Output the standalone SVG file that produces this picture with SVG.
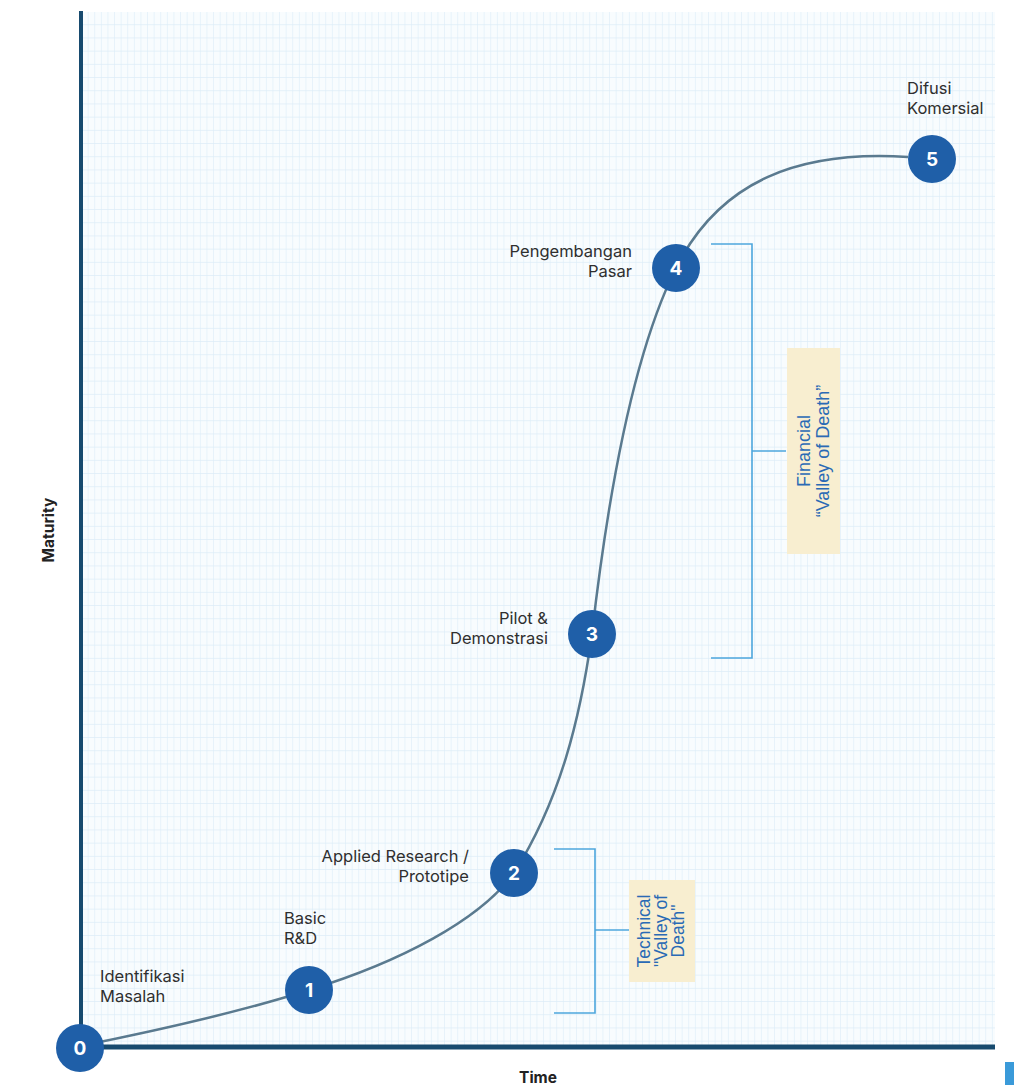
<svg xmlns="http://www.w3.org/2000/svg" width="1014" height="1085" viewBox="0 0 1014 1085">
<defs>
<pattern id="grid" x="82" y="12" width="6.6" height="13.2" patternUnits="userSpaceOnUse">
<rect width="6.6" height="13.2" fill="#f8fcfe"/>
<path d="M6.6,0 V13.2 M0,13.2 H6.6" stroke="#dcedf8" stroke-width="1.2" fill="none"/>
</pattern>
<style>
.lbl{font-family:Inter,"Liberation Sans",sans-serif;font-size:16.5px;fill:#2f2f2f}
.end{text-anchor:end}
.node circle{fill:#1f5fa8}
.node text{font-family:Inter,"Liberation Sans",sans-serif;font-size:19px;font-weight:700;fill:#fff;text-anchor:middle}
.br{stroke:#4da6dd;stroke-width:1.6;fill:none}
.vbox{fill:#f8eed0}
.vt{font-family:"Liberation Sans",Arial,sans-serif;fill:#2a6ab5;text-anchor:middle}
.axis{stroke:#174a6e;fill:none}
.axl{font-family:Inter,"Liberation Sans",sans-serif;font-size:15.5px;font-weight:700;fill:#222;text-anchor:middle}
</style>
</defs>
<rect width="1014" height="1085" fill="#ffffff"/>
<rect x="82" y="12" width="913" height="1034" fill="url(#grid)"/>

<g id="axes">
<line class="axis" x1="81" y1="11" x2="81" y2="1049" stroke-width="4"/>
<line class="axis" x1="79" y1="1047" x2="995" y2="1047" stroke-width="5"/>
<text class="axl" transform="translate(54,530) rotate(-90)">Maturity</text>
<text class="axl" x="538" y="1083">Time</text>
<rect x="1005" y="1062" width="9" height="23" fill="#3a9ad9"/>
</g>

<g id="connectors">
<path d="M80,1046 C160,1030 240,1012 309,990 C400,962 480,920 514,873 C560,800 580,720 592,634 C605,520 630,360 676,268 C720,180 800,150 908,157" fill="none" stroke="#5a7a8f" stroke-width="2.5"/>
<path class="br" d="M554,849 H595 V1013 H554 M595,930 H629"/>
<path class="br" d="M711,244 H752 V658 H711 M752,451 H786"/>
</g>

<g id="technical-valley">
<rect class="vbox" x="629" y="880" width="66" height="102"/>
<text class="vt" font-size="17.5" transform="translate(662,931) rotate(-90)"><tspan x="0" y="-12">Technical</tspan><tspan x="0" y="5">"Valley of</tspan><tspan x="0" y="22">Death"</tspan></text>
</g>

<g id="financial-valley">
<rect class="vbox" x="787" y="348" width="53" height="206"/>
<text class="vt" font-size="18" transform="translate(813,451) rotate(-90)"><tspan x="0" y="-3">Financial</tspan><tspan x="0" y="16">“Valley of Death”</tspan></text>
</g>

<g id="node0" class="node"><circle cx="80" cy="1048" r="24"/><text x="80" y="1055">0</text></g>
<g id="node1" class="node"><circle cx="309" cy="990" r="24"/><text x="309" y="997">1</text></g>
<g id="node2" class="node"><circle cx="514" cy="873" r="24"/><text x="514" y="880">2</text></g>
<g id="node3" class="node"><circle cx="592" cy="634" r="24"/><text x="592" y="641">3</text></g>
<g id="node4" class="node"><circle cx="676" cy="268" r="24"/><text x="676" y="275">4</text></g>
<g id="node5" class="node"><circle cx="932" cy="159" r="24"/><text x="932" y="166">5</text></g>

<g id="labels">
<text class="lbl" x="100" y="982">Identifikasi</text>
<text class="lbl" x="100" y="1002">Masalah</text>
<text class="lbl" x="284" y="924">Basic</text>
<text class="lbl" x="284" y="944">R&amp;D</text>
<text class="lbl end" x="469" y="862">Applied Research /</text>
<text class="lbl end" x="469" y="882">Prototipe</text>
<text class="lbl end" x="548" y="624">Pilot &amp;</text>
<text class="lbl end" x="548" y="644">Demonstrasi</text>
<text class="lbl end" x="632" y="257">Pengembangan</text>
<text class="lbl end" x="632" y="277">Pasar</text>
<text class="lbl" x="907" y="94">Difusi</text>
<text class="lbl" x="907" y="114">Komersial</text>
</g>
</svg>
